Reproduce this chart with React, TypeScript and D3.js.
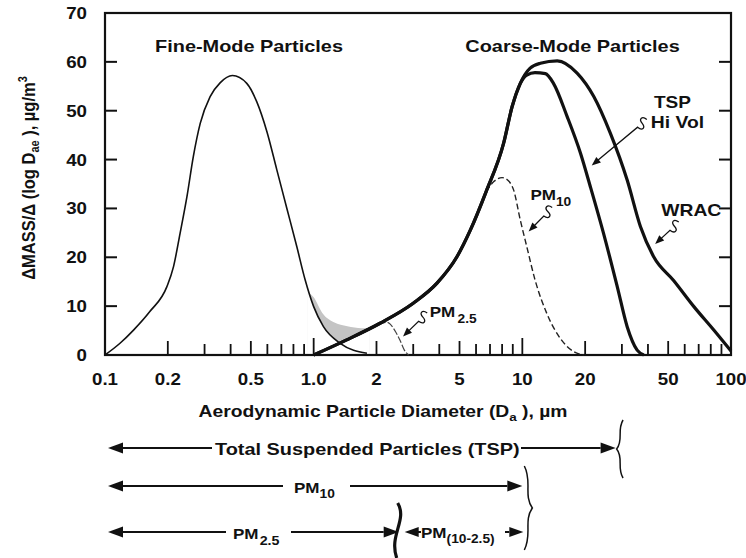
import React from "react";
import * as d3 from "d3";

const W = 746;
const H = 558;
const FONT = "'Liberation Sans', Arial, Helvetica, sans-serif";
const SX = 1.17;

// Fine-mode distribution (diameter µm, mass)
const fineD = [0.1, 0.118, 0.137, 0.164, 0.198, 0.213, 0.229, 0.247, 0.265, 0.286, 0.319, 0.356, 0.408, 0.478, 0.534, 0.597, 0.666, 0.744, 0.83, 0.91, 1.0, 1.114, 1.34, 1.8];
const fineV = [0, 2.4, 5.1, 8.9, 14.0, 18.1, 24.9, 32.4, 40.6, 47.4, 52.9, 55.7, 57.2, 55.6, 51.8, 45.7, 37.9, 30.0, 22.2, 15.4, 9.9, 5.8, 2.4, 0.35];

// TSP Hi Vol
const tspD = [1.0, 1.44, 2.08, 3.0, 3.9, 4.86, 5.64, 6.7, 8.13, 8.93, 9.78, 10.5, 11.5, 12.9, 14.1, 16.4, 19.0, 21.2, 24.5, 28.5, 31.8, 35.5, 38.2];
const tspV = [0, 3.1, 6.5, 10.6, 14.7, 20.1, 25.6, 33.4, 43.3, 50.8, 55.6, 57.3, 57.8, 57.6, 55.6, 48.8, 41.3, 34.4, 24.9, 14.0, 5.8, 1.0, 0];

// WRAC
const wracD = [1.0, 1.44, 2.08, 3.0, 3.9, 4.86, 5.64, 6.7, 8.13, 8.93, 9.78, 10.9, 12.2, 14.7, 18.3, 22.0, 26.4, 31.8, 36.8, 42.6, 53.2, 66.4, 82.7, 100];
const wracV = [0, 3.1, 6.5, 10.6, 14.7, 20.1, 25.6, 33.4, 43.3, 50.8, 55.6, 58.7, 59.7, 60.2, 57.7, 52.9, 45.4, 35.8, 26.3, 20.1, 15.2, 9.9, 5.1, 0.8];

// PM10 sampler (dashed)
const pm10D = [6.7, 7.3, 8.0, 8.6, 9.08, 9.78, 10.5, 11.5, 13.1, 15.2, 17.6, 19.7];
const pm10V = [33.4, 35.5, 36.3, 35.6, 33.8, 27.6, 22.2, 15.4, 8.5, 3.4, 0.7, 0];

// PM2.5 sampler
const pm25D = [2.05, 2.25, 2.45, 2.6, 2.72, 2.85];
const pm25V = [6.4, 6.7, 5.0, 2.9, 1.0, 0];

// Grey overlap (upper edge)
const shadeD = [0.93, 1.0, 1.1, 1.25, 1.45, 1.7, 1.85];
const shadeV = [13.0, 11.8, 8.6, 6.7, 5.9, 5.5, 5.5];

const xTickValues = [0.1, 0.2, 0.5, 1, 2, 5, 10, 20, 50, 100];
const xTickLabels = ["0.1", "0.2", "0.5", "1.0", "2", "5", "10", "20", "50", "100"];
const yTickValues = [0, 10, 20, 30, 40, 50, 60, 70];

// size ranges (µm) for the bottom brackets
const tspRange = [0.1, 28];
const pm10Range = [0.1, 10];
const pm25Range = [0.1, 2.5];
const coarseRange = [2.5, 10];

type TP = { x: number; y: number; size: number; anchor?: string; sx?: number; children: React.ReactNode };
function T({ x, y, size, anchor = "start", sx = SX, children }: TP) {
  return (
    <text
      transform={`translate(${x},${y}) scale(${sx},1)`}
      fontSize={size}
      fontWeight="bold"
      fontFamily={FONT}
      textAnchor={anchor}
      fill="#111"
    >
      {children}
    </text>
  );
}

function arrowHead(tx: number, ty: number, ux: number, uy: number, len: number, hw: number) {
  const bx = tx - ux * len;
  const by = ty - uy * len;
  const nx = -uy;
  const ny = ux;
  return `${tx},${ty} ${bx + nx * hw},${by + ny * hw} ${bx - nx * hw},${by - ny * hw}`;
}

function Squiggle({ s, t }: { s: [number, number]; t: [number, number] }) {
  const [sx, sy] = s;
  const [tx, ty] = t;
  const dx = tx - sx;
  const dy = ty - sy;
  const L = Math.hypot(dx, dy);
  const ux = dx / L;
  const uy = dy / L;
  const nx = -uy;
  const ny = ux;
  const p = (a: number, b: number) => `${sx + ux * a + nx * b},${sy + uy * a + ny * b}`;
  const al = 8;
  const ex = tx - ux * al;
  const ey = ty - uy * al;
  const d = `M${p(0, 0)} C${p(1, 6)} ${p(6, 6)} ${p(6, 0)} C${p(6, -6)} ${p(11, -6)} ${p(12, 0)} L${ex},${ey}`;
  return (
    <g>
      <path d={d} fill="none" stroke="#111" strokeWidth={1.3} />
      <polygon points={arrowHead(tx, ty, ux, uy, 9, 3.6)} fill="#111" />
    </g>
  );
}

function brace(x: number, y0: number, y1: number, dir: number, w: number) {
  const h = y1 - y0;
  const ym = (y0 + y1) / 2;
  const X = (v: number) => x + dir * v;
  return `M${X(-w * 0.3)},${y0} C${X(w * 0.5)},${y0 + h * 0.18} ${X(-w * 0.4)},${ym - h * 0.15} ${X(w * 0.5)},${ym} C${X(-w * 0.4)},${ym + h * 0.15} ${X(w * 0.5)},${y1 - h * 0.18} ${X(-w * 0.3)},${y1}`;
}

export default function App() {
  const x = d3.scaleLog().domain([0.1, 100]).range([105, 731]);
  const y = d3.scaleLinear().domain([0, 70]).range([355, 13]);

  const mk = (D: number[], V: number[]) =>
    d3
      .line<number>()
      .x((_, i) => x(D[i]))
      .y((_, i) => y(V[i]))
      .curve(d3.curveMonotoneX)(D) as string;
  const mkArea = (D: number[], V: number[]) =>
    d3
      .area<number>()
      .x((_, i) => x(D[i]))
      .y0(y(0))
      .y1((_, i) => y(V[i]))
      .curve(d3.curveMonotoneX)(D) as string;

  const allTicks = x.ticks();
  const tickLen = (v: number) => {
    const l = Math.round(Math.log10(v) * 1000) / 1000;
    if (Math.abs(l - Math.round(l)) < 1e-6) return 17;
    if (xTickValues.includes(+v.toPrecision(3))) return 14;
    return 11;
  };

  const left = x(0.1) + 3;
  const r1 = 448;
  const r2 = 486;
  const r3 = 532;
  const bigAL = 15;
  const bigHW = 5.5;

  const ann = (d: number, v: number): [number, number] => [x(d), y(v)];

  return (
    <svg width={W} height={H} style={{ position: "absolute", left: 0, top: 0, background: "#fff" }}>
      <rect x={0} y={0} width={W} height={H} fill="#fff" />
      <defs>
        <clipPath id="shadeClip">
          <rect x={x(shadeD[0])} y={0} width={x(shadeD[shadeD.length - 1]) - x(shadeD[0])} height={y(0)} />
        </clipPath>
      </defs>

      {/* grey overlap region */}
      <g clipPath="url(#shadeClip)">
        <path d={mkArea(shadeD, shadeV)} fill="#c4c4c4" />
        <path d={mkArea(fineD, fineV)} fill="#fff" />
        <path d={mkArea(tspD, tspV)} fill="#fff" />
      </g>

      {/* frame */}
      <rect x={x(0.1)} y={y(70)} width={x(100) - x(0.1)} height={y(0) - y(70)} fill="none" stroke="#111" strokeWidth={2.2} />

      {/* y ticks */}
      {yTickValues.slice(1, -1).map((v) => (
        <g key={"yt" + v}>
          <line x1={x(0.1)} x2={x(0.1) + 12} y1={y(v)} y2={y(v)} stroke="#111" strokeWidth={2} />
          <line x1={x(100)} x2={x(100) - 12} y1={y(v)} y2={y(v)} stroke="#111" strokeWidth={2} />
        </g>
      ))}
      {yTickValues.map((v) => (
        <T key={"yl" + v} x={87} y={y(v) + 6} size={16} anchor="end">
          {v}
        </T>
      ))}

      {/* x ticks */}
      {allTicks
        .filter((v) => v > 0.1 && v < 100)
        .map((v, i) => (
          <line key={"xt" + i} x1={x(v)} x2={x(v)} y1={y(0)} y2={y(0) - tickLen(v)} stroke="#111" strokeWidth={1.8} />
        ))}
      {xTickValues.map((v, i) => (
        <T key={"xl" + i} x={x(v)} y={385} size={16} anchor="middle">
          {xTickLabels[i]}
        </T>
      ))}

      {/* curves */}
      <path d={mk(fineD, fineV)} fill="none" stroke="#111" strokeWidth={1.6} />
      <path d={mk(pm25D, pm25V)} fill="none" stroke="#444" strokeWidth={1.2} strokeDasharray="7,2" />
      <path d={mk(pm10D, pm10V)} fill="none" stroke="#222" strokeWidth={1.4} strokeDasharray="6,3" />
      <path d={mk(wracD, wracV)} fill="none" stroke="#111" strokeWidth={3.2} strokeLinejoin="round" />
      <path d={mk(tspD, tspV)} fill="none" stroke="#111" strokeWidth={3.2} strokeLinejoin="round" />

      {/* mode titles */}
      <T x={x(0.49)} y={52} size={17} anchor="middle">Fine-Mode Particles</T>
      <T x={x(17.4)} y={52} size={17} anchor="middle">Coarse-Mode Particles</T>

      {/* annotations */}
      <T x={x(10.93)} y={200} size={15.5} sx={1.1}>
        PM<tspan fontSize={12.5} dy={6}>10</tspan>
      </T>
      <Squiggle s={ann(13.9, 30.2)} t={ann(10.72, 25.3)} />

      <T x={x(3.6)} y={317} size={15.5} sx={1.1}>
        PM<tspan fontSize={12.5} dx={2} dy={6}>2.5</tspan>
      </T>
      <Squiggle s={ann(3.5, 8.6)} t={ann(2.68, 3.8)} />

      <T x={x(52.4)} y={108} size={17} anchor="middle" sx={1.12}>TSP</T>
      <T x={x(55.4)} y={128} size={16.5} anchor="middle">Hi Vol</T>
      <Squiggle s={ann(39.5, 48.2)} t={ann(21.5, 38.8)} />

      <T x={x(64.5)} y={216} size={16.5} anchor="middle">WRAC</T>
      <Squiggle s={ann(56.2, 27.2)} t={ann(43.3, 22.7)} />

      {/* axis titles */}
      <T x={383} y={417} size={16.5} anchor="middle">
        Aerodynamic Particle Diameter (D<tspan fontSize={11.5} dy={4}>a</tspan>
        <tspan dy={-4}> ), µm</tspan>
      </T>
      <text
        transform={`translate(35,178) rotate(-90) scale(1,1.08)`}
        fontSize={16.5}
        fontWeight="bold"
        fontFamily={FONT}
        textAnchor="middle"
        fill="#111"
      >
        ΔMASS/Δ (log D<tspan fontSize={11} dy={4}>ae</tspan>
        <tspan dy={-4}> ), µg/m</tspan>
        <tspan fontSize={11} dy={-7}>3</tspan>
      </text>

      {/* Row 1: TSP */}
      <line x1={left + bigAL} x2={212} y1={r1} y2={r1} stroke="#111" strokeWidth={2} />
      <polygon points={arrowHead(left, r1, -1, 0, bigAL, bigHW)} fill="#111" />
      <T x={215} y={r1 + 6.5} size={17}>Total Suspended Particles (TSP)</T>
      <line x1={521} x2={x(tspRange[1]) - bigAL} y1={r1} y2={r1} stroke="#111" strokeWidth={2} />
      <polygon points={arrowHead(x(tspRange[1]), r1, 1, 0, bigAL, bigHW)} fill="#111" />
      <path d={brace(x(tspRange[1]) + 5, 420, 478, -1, 8)} fill="none" stroke="#111" strokeWidth={1.5} />

      {/* Row 2: PM10 */}
      <line x1={left + bigAL} x2={283} y1={r2} y2={r2} stroke="#111" strokeWidth={2} />
      <polygon points={arrowHead(left, r2, -1, 0, bigAL, bigHW)} fill="#111" />
      <T x={294} y={r2 + 6.5} size={15.5} sx={1.1}>
        PM<tspan fontSize={12.5} dy={5}>10</tspan>
      </T>
      <line x1={350} x2={x(pm10Range[1]) - bigAL} y1={r2} y2={r2} stroke="#111" strokeWidth={2} />
      <polygon points={arrowHead(x(pm10Range[1]), r2, 1, 0, bigAL, bigHW)} fill="#111" />
      <path d={brace(x(pm10Range[1]) + 5, 466, 550, 1, 10)} fill="none" stroke="#111" strokeWidth={1.5} />

      {/* Row 3: PM2.5 and PM(10-2.5) */}
      <line x1={left + bigAL} x2={226} y1={r3} y2={r3} stroke="#111" strokeWidth={2} />
      <polygon points={arrowHead(left, r3, -1, 0, bigAL, bigHW)} fill="#111" />
      <T x={233} y={r3 + 6.5} size={15.5} sx={1.1}>
        PM<tspan fontSize={13} dx={1} dy={6}>2.5</tspan>
      </T>
      <line x1={291} x2={x(pm25Range[1]) + 2 - bigAL} y1={r3} y2={r3} stroke="#111" strokeWidth={2} />
      <polygon points={arrowHead(x(pm25Range[1]) + 2, r3, 1, 0, bigAL, bigHW)} fill="#111" />
      <path
        d={`M${x(coarseRange[0]) + 1},503 C${x(coarseRange[0]) + 11},520 ${x(coarseRange[0]) - 8},535 ${x(coarseRange[0])},558`}
        fill="none"
        stroke="#111"
        strokeWidth={3.2}
      />
      <polygon points={arrowHead(x(coarseRange[0]) + 8, r3, -1, 0, 14, 5)} fill="#111" />
      <line x1={x(coarseRange[0]) + 20} x2={421} y1={r3} y2={r3} stroke="#111" strokeWidth={2} />
      <T x={421} y={r3 + 6} size={15.5} sx={1.1}>
        PM<tspan fontSize={12.5} dy={5}>(10-2.5)</tspan>
      </T>
      <line x1={505} x2={x(coarseRange[1]) + 1 - 14} y1={r3} y2={r3} stroke="#111" strokeWidth={2} />
      <polygon points={arrowHead(x(coarseRange[1]) + 1, r3, 1, 0, 14, 5)} fill="#111" />
    </svg>
  );
}
